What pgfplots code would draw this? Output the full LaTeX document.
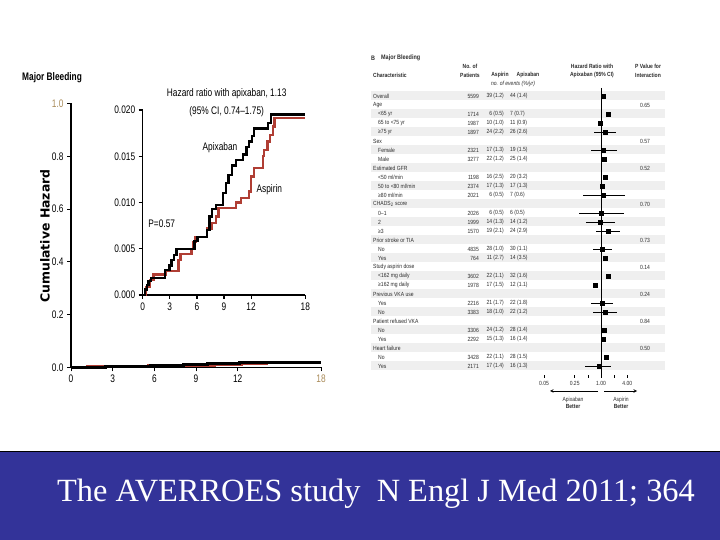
\documentclass[border=0pt]{standalone}
\usepackage{pgfplots}
\pgfplotsset{compat=1.18}
\usepackage{pgfplotstable}
\usepackage{fontspec}
\setmainfont{Liberation Sans}
\newfontfamily\cond[FakeStretch=0.76]{Liberation Sans}
\newfontfamily\tabf[FakeStretch=0.84]{Liberation Sans}
\newfontfamily\wide{DejaVu Sans}
\newfontfamily\slidefont{Liberation Serif}

\definecolor{aspred}{RGB}{176,62,52}
\definecolor{slideblue}{RGB}{51,51,153}
\definecolor{tanlab}{RGB}{170,140,90}
\definecolor{stripe}{RGB}{239,239,239}
\definecolor{tabtext}{RGB}{45,45,45}

% cumulative hazard, step times (months) and level after the step
\pgfplotstableread{
t h
0 0
0.25 0.0006
0.45 0.0011
0.65 0.0015
0.9 0.0018
2.45 0.0027
2.95 0.0032
3.2 0.0038
3.45 0.0043
3.75 0.0050
5.75 0.0058
6.05 0.0063
7.1 0.0070
7.4 0.0085
7.7 0.0093
8.1 0.0097
8.9 0.0110
9.2 0.0121
9.5 0.0130
9.85 0.0140
10.3 0.0146
11.1 0.0152
11.5 0.0160
11.8 0.0166
12.1 0.0172
12.3 0.0180
13.9 0.0186
14.2 0.0195
18 0.0195
}\apixaban

\pgfplotstableread{
t h
0 0
0.4 0.0009
0.8 0.0016
1.2 0.0022
2.55 0.0026
3.95 0.0038
4.2 0.0044
5.4 0.0050
5.6 0.0057
5.85 0.0063
7.15 0.0072
7.6 0.0078
8.1 0.0085
8.4 0.0094
10.3 0.0100
10.9 0.0105
11.75 0.0112
12.0 0.0128
12.3 0.0137
13.3 0.0150
13.45 0.0157
13.8 0.0166
14.1 0.0173
14.4 0.0182
14.6 0.0191
18 0.0191
}\aspirin

% subgroup hazard ratios: row, estimate, box half-size (bp)
\pgfplotstableread{
row hr s
0 1.13 6
2 1.45 1.8
3 0.98 2
4 1.23 2.2
6 1.13 2.2
7 1.17 3.6
9 1.25 1.5
10 1.05 2.7
11 1.13 2.2
13 1.03 2.5
14 0.96 2.2
15 1.43 2.2
17 1.09 4.6
18 1.27 1.2
20 1.46 3.5
21 0.75 2.2
23 1.07 2.5
24 1.23 3.5
26 1.18 3.0
27 1.11 1.8
29 1.34 3.8
30 0.90 2.5
}\forest

% confidence intervals (segments separated by nan rows)
\pgfplotstableread{
x y
0.71 4
2.2 4
nan nan
0.60 6
2.3 6
nan nan
0.39 11
3.6 11
nan nan
0.32 13
3.3 13
nan nan
0.45 14
2.1 14
nan nan
0.77 15
2.65 15
nan nan
0.67 17
1.82 17
nan nan
0.60 23
1.92 23
nan nan
0.67 24
2.35 24
nan nan
0.44 30
1.73 30
}\forestci

\newcommand{\grp}[3]{%
  \node[anchor=west] at (373,{444-9*#1}) {#2};
  \node at (645,{444-9*#1}) {#3};}
\newcommand{\sub}[6][378]{%
  \node[anchor=west] at (#1,{444-9*#2}) {#3};
  \node[anchor=east] at (479,{444-9*#2}) {#4};
  \node[anchor=east] at (504,{444-9*#2}) {#5};
  \node[anchor=west] at (510,{444-9*#2}) {#6};}

\begin{document}
\begin{tikzpicture}[x=1bp,y=1bp]
\useasboundingbox (0,0) rectangle (720,540);
\fill[white] (0,0) rectangle (720,540);

% ---------- left: cumulative hazard ----------
\node[anchor=west, inner sep=0, font=\cond\bfseries\fontsize{11}{11}\selectfont] at (22,462) {Major Bleeding};
\node[rotate=90, inner sep=0, font=\wide\bfseries\fontsize{12.5}{12.5}\selectfont] at (45,304) {Cumulative Hazard};

\begin{axis}[
  at={(71bp,172.5bp)}, anchor=south west, scale only axis,
  width=250bp, height=264bp,
  xmin=0, xmax=18, ymin=0, ymax=1,
  axis lines=left, axis line style={-, line width=1.1bp},
  xtick={0,3,6,9,12,18}, ytick={0,0.2,0.4,0.6,0.8,1.0},
  xticklabels={0,3,6,9,12,\textcolor{tanlab}{18}},
  yticklabels={0.0,0.2,0.4,0.6,0.8,\textcolor{tanlab}{1.0}},
  tick align=outside, major tick length=4bp,
  tick style={black, line width=1bp},
  ticklabel style={font=\cond\fontsize{11}{11}\selectfont},
  /pgf/number format/assume math mode=true,
  clip=false,
]
\addplot[aspred, line width=3bp, const plot] table[x=t,y=h]{\aspirin};
\addplot[black, line width=3bp, const plot] table[x=t,y=h]{\apixaban};
\end{axis}

\begin{axis}[
  at={(142.7bp,245bp)}, anchor=south west, scale only axis,
  width=162.6bp, height=185bp,
  xmin=0, xmax=18, ymin=0, ymax=0.02,
  axis lines=left, axis line style={-, line width=1.5bp},
  xtick={0,3,6,9,12,18},
  xticklabels={0,3,6,9,12,18},
  ytick={0,0.005,0.01,0.015,0.02},
  yticklabels={0.000,0.005,0.010,0.015,0.020},
  scaled y ticks=false,
  tick align=outside, major tick length=4bp,
  tick style={black, line width=1.2bp},
  ticklabel style={font=\cond\fontsize{11}{11}\selectfont},
  /pgf/number format/assume math mode=true,
  clip=false,
]
\addplot[aspred, line width=2.3bp, const plot] table[x=t,y=h]{\aspirin};
\addplot[black, line width=2.3bp, const plot] table[x=t,y=h]{\apixaban};
\end{axis}

\begin{scope}[every node/.style={inner sep=0, font=\cond\fontsize{11}{11}\selectfont}]
\node[align=center, font=\cond\fontsize{11}{18.4}\selectfont] at (226.7,437.5) {Hazard ratio with apixaban, 1.13\\(95\% CI, 0.74–1.75)};
\node at (220,392) {Apixaban};
\node at (269.3,350.7) {Aspirin};
\node at (161.7,316) {P=0.57};
\end{scope}

% ---------- right: subgroup table ----------
\foreach \i in {0,2,...,30}
  \fill[stripe] (371,{444-9*\i-4.5}) rectangle (665,{444-9*\i+4.5});

\begin{scope}[every node/.style={inner sep=0, text=tabtext, font=\tabf\fontsize{6}{6}\selectfont}]
\node[anchor=west, font=\tabf\bfseries\fontsize{6.5}{6.5}\selectfont] at (371,482) {B};
\node[anchor=west, font=\tabf\bfseries\fontsize{6.5}{6.5}\selectfont] at (381,482) {Major Bleeding};
\begin{scope}[every node/.append style={font=\tabf\bfseries\fontsize{6}{6}\selectfont}]
\node[anchor=west] at (373,465) {Characteristic};
\node at (470,474) {No. of};
\node at (470,465) {Patients};
\node at (500,465) {Aspirin};
\node at (528,465) {Apixaban};
\node at (592,474) {Hazard Ratio with};
\node at (592,465) {Apixaban (95\% CI)};
\node at (648,474) {P Value for};
\node at (648,465) {Interaction};
\end{scope}
\node[font=\tabf\itshape\fontsize{6}{6}\selectfont] at (513,456) {no. of events (\%/yr)};

\sub[373]{0}{Overall}{5599}{39 (1.2)}{44 (1.4)}
\grp{1}{Age}{0.65}
\sub{2}{<65 yr}{1714}{6 (0.5)}{7 (0.7)}
\sub{3}{65 to <75 yr}{1987}{10 (1.0)}{11 (0.9)}
\sub{4}{≥75 yr}{1897}{24 (2.2)}{26 (2.6)}
\grp{5}{Sex}{0.57}
\sub{6}{Female}{2321}{17 (1.3)}{19 (1.5)}
\sub{7}{Male}{3277}{22 (1.2)}{25 (1.4)}
\grp{8}{Estimated GFR}{0.52}
\sub{9}{<50 ml/min}{1198}{16 (2.5)}{20 (3.2)}
\sub{10}{50 to <80 ml/min}{2374}{17 (1.3)}{17 (1.3)}
\sub{11}{≥80 ml/min}{2021}{6 (0.5)}{7 (0.6)}
\grp{12}{CHADS\textsubscript{2} score}{0.70}
\sub{13}{0–1}{2026}{6 (0.5)}{6 (0.5)}
\sub{14}{2}{1999}{14 (1.3)}{14 (1.2)}
\sub{15}{≥3}{1570}{19 (2.1)}{24 (2.9)}
\grp{16}{Prior stroke or TIA}{0.73}
\sub{17}{No}{4835}{28 (1.0)}{30 (1.1)}
\sub{18}{Yes}{764}{11 (2.7)}{14 (3.5)}
\grp{19}{Study aspirin dose}{0.14}
\sub{20}{<162 mg daily}{3602}{22 (1.1)}{32 (1.6)}
\sub{21}{≥162 mg daily}{1978}{17 (1.5)}{12 (1.1)}
\grp{22}{Previous VKA use}{0.24}
\sub{23}{Yes}{2216}{21 (1.7)}{22 (1.8)}
\sub{24}{No}{3383}{18 (1.0)}{22 (1.2)}
\grp{25}{Patient refused VKA}{0.84}
\sub{26}{No}{3306}{24 (1.2)}{28 (1.4)}
\sub{27}{Yes}{2292}{15 (1.3)}{16 (1.4)}
\grp{28}{Heart failure}{0.50}
\sub{29}{No}{3428}{22 (1.1)}{28 (1.5)}
\sub{30}{Yes}{2171}{17 (1.4)}{16 (1.3)}

\node[align=center] at (573,137) {Apixaban\\[1bp]{\bfseries Better}};
\node[align=center] at (621,137) {Aspirin\\[1bp]{\bfseries Better}};
\end{scope}
\draw[-stealth, line width=0.6bp] (598,149) -- (550,149);
\draw[-stealth, line width=0.6bp] (604,149) -- (637,149);

\begin{axis}[
  at={(536bp,165bp)}, anchor=south west, scale only axis,
  width=110bp, height=288bp,
  xmode=log, xmin=0.0327, xmax=10.68,
  ymin=-1, ymax=31, y dir=reverse,
  hide y axis, axis x line=bottom,
  axis line style={draw=none},
  xtick={0.05,0.25,0.5,1,2,4},
  xticklabels={0.05,0.25,,1.00,,4.00},
  minor xtick={},
  tick align=outside, major tick length=3bp,
  tick style={draw=black, line width=0.6bp},
  ticklabel style={font=\tabf\fontsize{6}{6}\selectfont, text=tabtext},
  /pgf/number format/assume math mode=true,
  clip=false, unbounded coords=jump,
]
\addplot[black, line width=0.8bp] coordinates {(1,-0.9) (1,31)};
\addplot[black, line width=0.8bp] table[x=x,y=y]{\forestci};
\addplot[scatter, only marks, mark=square*,
  point meta=\thisrow{s},
  visualization depends on={\thisrow{s}\as\boxsize},
  scatter/@pre marker code/.append style={/tikz/mark size=\boxsize},
  scatter/use mapped color={draw=black, fill=black}]
  table[x=hr,y=row]{\forest};
\end{axis}

% ---------- footer band ----------
\fill[slideblue] (0,0) rectangle (720,88);
\draw[black, line width=1bp] (0,88.5) -- (720,88.5);
\node[text=white, inner sep=0, font=\slidefont\fontsize{32.5}{32.5}\selectfont] at (376,46) {The AVERROES study\ \ N Engl J Med 2011; 364};
\end{tikzpicture}
\end{document}
